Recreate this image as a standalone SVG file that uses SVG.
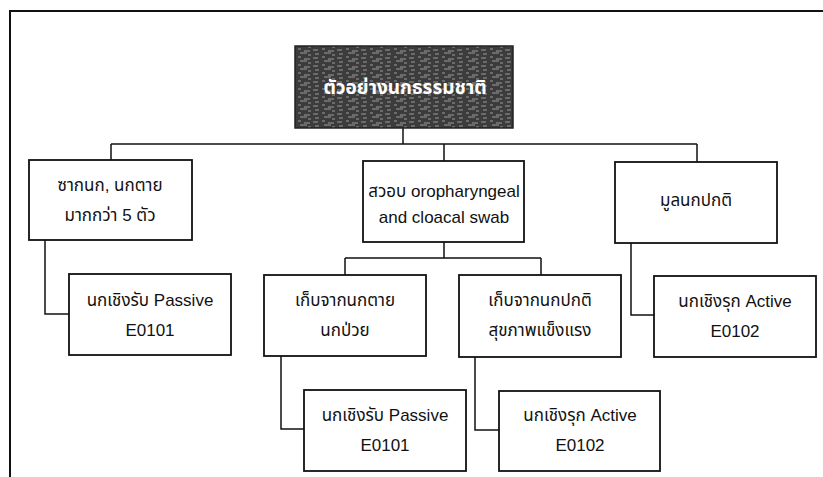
<svg xmlns="http://www.w3.org/2000/svg" width="823" height="477" viewBox="0 0 823 477">
<style>
.box{fill:#fff;stroke:#111;stroke-width:1.8}
.t{font-family:"Liberation Sans","Noto Sans Thai","Loma","Garuda","Tlwg Typist",sans-serif;font-size:17px;fill:#111;text-anchor:middle}
.title{font-family:"Liberation Sans","Noto Sans Thai","Loma","Garuda",sans-serif;font-size:19px;font-weight:bold;fill:#fff;text-anchor:middle}
.c{fill:none;stroke:#111;stroke-width:1.5}
</style>
<defs>
<pattern id="noise" width="24" height="8" patternUnits="userSpaceOnUse">
<rect width="24" height="8" fill="#3c3c3c"/>
<path d="M1 2h5M10 1h3M16 3h6M3 6h4M12 5h7M20 7h3" stroke="#9a9a9a" stroke-width="1"/>
</pattern>
</defs>
<rect width="823" height="477" fill="#fff"/>
<g id="frame"><path d="M823 11H10V477" fill="none" stroke="#111" stroke-width="2"/></g>
<g id="connectors">
<path class="c" d="M403 128V144M111 144H697M111 144V160M444 144V161M697 144V162"/>
<path class="c" d="M45 240V314H69"/>
<path class="c" d="M444 242V258M345 258H541M345 258V275M541 258V275"/>
<path class="c" d="M631 243V315H654"/>
<path class="c" d="M281 356V429H304"/>
<path class="c" d="M475 357V430H499"/>
</g>
<g id="title">
<rect x="295" y="46" width="218" height="82" fill="url(#noise)" stroke="#222" stroke-width="1.5"/>
<text class="title" x="405" y="94">ตัวอย่างนกธรรมชาติ</text>
</g>
<g id="n1">
<rect class="box" x="29" y="160" width="163" height="80"/>
<text class="t" x="110" y="191">ซากนก, นกตาย</text>
<text class="t" x="110" y="221">มากกว่า 5 ตัว</text>
</g>
<g id="n2">
<rect class="box" x="363" y="161" width="161" height="81"/>
<text class="t" x="444" y="197">สวอบ oropharyngeal</text>
<text class="t" x="444" y="223">and cloacal swab</text>
</g>
<g id="n3">
<rect class="box" x="615" y="162" width="162" height="81"/>
<text class="t" x="696" y="206">มูลนกปกติ</text>
</g>
<g id="n4">
<rect class="box" x="69" y="274" width="162" height="81"/>
<text class="t" x="150" y="306">นกเชิงรับ Passive</text>
<text class="t" x="150" y="336">E0101</text>
</g>
<g id="n5">
<rect class="box" x="264" y="275" width="162" height="81"/>
<text class="t" x="345" y="306">เก็บจากนกตาย</text>
<text class="t" x="345" y="336">นกป่วย</text>
</g>
<g id="n6">
<rect class="box" x="459" y="275" width="162" height="82"/>
<text class="t" x="540" y="306">เก็บจากนกปกติ</text>
<text class="t" x="540" y="336">สุขภาพแข็งแรง</text>
</g>
<g id="n7">
<rect class="box" x="654" y="276" width="162" height="81"/>
<text class="t" x="735" y="307">นกเชิงรุก Active</text>
<text class="t" x="735" y="337">E0102</text>
</g>
<g id="n8">
<rect class="box" x="304" y="390" width="162" height="81"/>
<text class="t" x="385" y="421">นกเชิงรับ Passive</text>
<text class="t" x="385" y="451">E0101</text>
</g>
<g id="n9">
<rect class="box" x="499" y="391" width="161" height="80"/>
<text class="t" x="580" y="421">นกเชิงรุก Active</text>
<text class="t" x="580" y="451">E0102</text>
</g>
</svg>
